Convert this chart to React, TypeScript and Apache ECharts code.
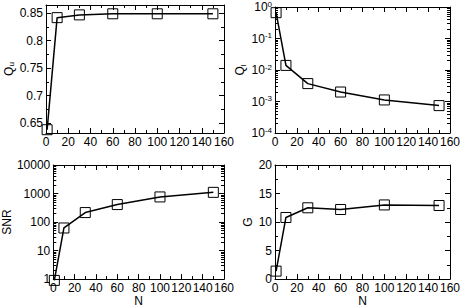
import React, { useEffect, useRef } from "react";
import * as echarts from "echarts";

// ---- data ----
const nValues = [1, 10, 30, 60, 100, 150];
const quValues = [0.638, 0.842, 0.847, 0.849, 0.849, 0.849];
const qlValues = [0.66, 0.014, 0.0037, 0.002, 0.00112, 0.00074];
const snrValues = [0.9, 62, 215, 410, 760, 1100];
const gValues = [1.4, 10.8, 12.5, 12.2, 13.0, 12.9];

// ---- tick values ----
const xTicks = [0, 20, 40, 60, 80, 100, 120, 140, 160];
const xMinorTicks = [10, 30, 50, 70, 90, 110, 130, 150];
const quTicks = [0.65, 0.7, 0.75, 0.8, 0.85];
const quMinorTicks = [0.675, 0.725, 0.775, 0.825];
const qlTicks = [0.0001, 0.001, 0.01, 0.1, 1];
const snrTicks = [1, 10, 100, 1000, 10000];
const gTicks = [0, 5, 10, 15, 20];
const gMinorTicks = [2.5, 7.5, 12.5, 17.5];
const logMultipliers = [2, 3, 4, 5, 6, 7, 8, 9];

function logMinor(decades: number[]): number[] {
  const out: number[] = [];
  decades.forEach((d) => logMultipliers.forEach((m) => out.push(m * d)));
  return out;
}

const FONT = "Liberation Sans, Arial, Helvetica, sans-serif";

const supRich = {
  b: { fontSize: 12, lineHeight: 14, fontFamily: FONT, color: "#000" },
  s: { fontSize: 8, lineHeight: 8, verticalAlign: "top", fontFamily: FONT, color: "#000" },
};
const subRich = {
  b: { fontSize: 12, lineHeight: 14, fontFamily: FONT, color: "#000" },
  u: { fontSize: 8, lineHeight: 8, verticalAlign: "bottom", fontFamily: FONT, color: "#000" },
};

function logFmt(v: number) {
  const e = Math.round(Math.log10(v));
  return `{b|10}{s|${e}}`;
}
function plainFmt(v: number) {
  return `{b|${String(Math.round(v * 1000) / 1000)}}`;
}

type Panel = {
  left: number;
  top: number;
  width: number;
  height: number;
  yType: "value" | "log";
  yMin: number;
  yMax: number;
  yTicks: number[];
  yMinor: number[];
  yFmt: (v: number) => string;
  yName: string;
  yNameGap: number;
  xName: string;
  values: number[];
};

const panels: Panel[] = [
  {
    left: 46, top: 5, width: 178, height: 128,
    yType: "value", yMin: 0.632, yMax: 0.865,
    yTicks: quTicks, yMinor: quMinorTicks, yFmt: plainFmt,
    yName: "{b|Q}{u|u}", yNameGap: 30, xName: "", values: quValues,
  },
  {
    left: 275, top: 5, width: 178, height: 128,
    yType: "log", yMin: 0.0001, yMax: 1,
    yTicks: qlTicks, yMinor: logMinor([0.0001, 0.001, 0.01, 0.1]), yFmt: logFmt,
    yName: "{b|Q}{u|l}", yNameGap: 28, xName: "", values: qlValues,
  },
  {
    left: 46, top: 165, width: 178, height: 118,
    yType: "log", yMin: 1, yMax: 10000,
    yTicks: snrTicks, yMinor: logMinor([1, 10, 100, 1000]), yFmt: plainFmt,
    yName: "{b|SNR}", yNameGap: 34, xName: "N", values: snrValues,
  },
  {
    left: 275, top: 165, width: 178, height: 118,
    yType: "value", yMin: 0, yMax: 20,
    yTicks: gTicks, yMinor: gMinorTicks, yFmt: plainFmt,
    yName: "{b|G}", yNameGap: 20, xName: "N", values: gValues,
  },
];

export default function App() {
  const ref = useRef<HTMLDivElement>(null);

  useEffect(() => {
    if (!ref.current) return;
    const chart = echarts.init(ref.current, undefined, { renderer: "svg" });

    const grids: any[] = [];
    const xAxes: any[] = [];
    const yAxes: any[] = [];
    const series: any[] = [];

    panels.forEach((p, i) => {
      grids.push({ left: p.left, top: p.top, width: p.width, height: p.height });

      const lineStyle = { color: "#000", width: 1 };
      const mkX = (pos: string, major: boolean, labels: boolean) => ({
        type: "value",
        gridIndex: i,
        position: pos,
        min: 0,
        max: 160,
        name: labels && major ? p.xName : "",
        nameLocation: "middle",
        nameGap: 13,
        nameTextStyle: { fontSize: 12, fontFamily: FONT, color: "#000" },
        axisLine: { show: major, onZero: false, lineStyle },
        axisTick: {
          show: true,
          inside: true,
          length: major ? 5 : 3,
          customValues: major ? xTicks : xMinorTicks,
          lineStyle,
        },
        axisLabel: {
          show: labels && major,
          customValues: xTicks,
          margin: 3,
          fontSize: 12,
          fontFamily: FONT,
          color: "#000",
        },
        splitLine: { show: false },
        minorTick: { show: false },
      });
      xAxes.push(mkX("bottom", true, true));
      xAxes.push(mkX("bottom", false, false));
      xAxes.push(mkX("top", true, false));
      xAxes.push(mkX("top", false, false));

      const mkY = (pos: string, major: boolean, labels: boolean) => ({
        type: p.yType,
        gridIndex: i,
        position: pos,
        min: p.yMin,
        max: p.yMax,
        logBase: 10,
        name: labels && major ? p.yName : "",
        nameLocation: "middle",
        nameGap: p.yNameGap,
        nameRotate: 90,
        nameTextStyle: { fontSize: 12, fontFamily: FONT, color: "#000", rich: subRich },
        axisLine: { show: major, onZero: false, lineStyle },
        axisTick: {
          show: true,
          inside: true,
          length: major ? 5 : 3,
          customValues: major ? p.yTicks : p.yMinor,
          lineStyle,
        },
        axisLabel: {
          show: labels && major,
          customValues: p.yTicks,
          margin: 3,
          fontSize: 12,
          fontFamily: FONT,
          color: "#000",
          formatter: (v: number) => p.yFmt(v),
          rich: supRich,
        },
        splitLine: { show: false },
        minorTick: { show: false },
      });
      yAxes.push(mkY("left", true, true));
      yAxes.push(mkY("left", false, false));
      yAxes.push(mkY("right", true, false));
      yAxes.push(mkY("right", false, false));

      series.push({
        type: "line",
        xAxisIndex: i * 4,
        yAxisIndex: i * 4,
        data: nValues.map((n, k) => [n, p.values[k]]),
        symbol: "rect",
        symbolSize: 10,
        showAllSymbol: true,
        clip: false,
        lineStyle: { color: "#000", width: 1.5 },
        itemStyle: { color: "rgba(255,255,255,0)", borderColor: "#000", borderWidth: 1 },
        emphasis: { disabled: true },
        z: 3,
      });
    });

    chart.setOption({
      animation: false,
      backgroundColor: "#fff",
      grid: grids,
      xAxis: xAxes,
      yAxis: yAxes,
      series,
    });

    return () => chart.dispose();
  }, []);

  return (
    <div
      ref={ref}
      style={{ position: "absolute", left: 0, top: 0, width: 463, height: 308, background: "#fff" }}
    />
  );
}
